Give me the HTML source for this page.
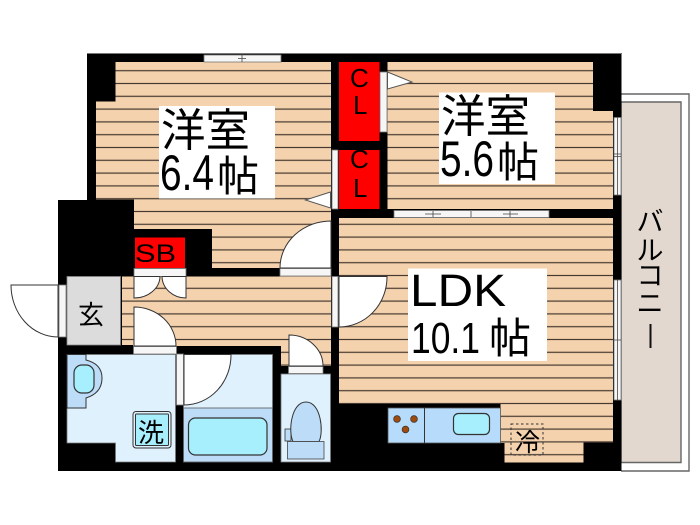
<!DOCTYPE html>
<html><head><meta charset="utf-8">
<style>
html,body{margin:0;padding:0;background:#fff;width:700px;height:525px;overflow:hidden}
svg{display:block;filter:blur(.35px)}
text{font-family:"Liberation Sans","Noto Sans CJK JP",sans-serif;fill:#000}
</style></head>
<body>
<svg width="700" height="525" viewBox="0 0 700 525" xmlns="http://www.w3.org/2000/svg">
<defs>
<pattern id="fl" width="10" height="12.8" patternUnits="userSpaceOnUse" patternTransform="translate(0,70.7)">
<rect width="10" height="12.8" fill="#f5d2ae"/>
<rect y="-0.6" width="10" height="1.2" fill="#463a30"/>
<rect y="12.2" width="10" height="1.2" fill="#463a30"/>
</pattern>
</defs>
<!-- balcony -->
<path d="M621 94H689V471H621" fill="#fff" stroke="#666" stroke-width="1.4"/>
<path d="M621 102H681V462.5H621Z" fill="#e2d8cf" stroke="#666" stroke-width="1.4"/>
<!-- black shell -->
<path d="M87 53.500H621.500V471H58V200H87Z" fill="#000"/>
<rect x="87" y="53" width="535" height="1" fill="#777"/>
<!-- floors -->
<path d="M115.500 62H331V268H280V268H212V229H134V199.500H96V101.500H115.500Z" fill="url(#fl)"/>
<path d="M387.500 62H593V111H613V209H387.500Z" fill="url(#fl)"/>
<path d="M339 218H613V442.500H583.500V462.500H504.500V443H500.500V404H339Z" fill="url(#fl)"/>
<path d="M122 276.500H331V366H281V346H133V345H122Z" fill="url(#fl)"/>
<!-- closets -->
<rect x="339" y="62" width="40.500" height="79" fill="#f00"/>
<rect x="339" y="150" width="40.500" height="59" fill="#f00"/>
<rect x="135" y="237.500" width="50" height="30.500" fill="#f00"/>
<!-- genkan -->
<rect x="67" y="276.500" width="53.500" height="68.500" fill="#dcdcdc" stroke="#888" stroke-width=".8"/>
<!-- wash -->
<path d="M67 354.500H175.500V462H115.500V443H67Z" fill="#dff1fd" stroke="#777" stroke-width=".8"/>
<path d="M67 354.500H86V360Q102 364 102 378Q102 393 86 398V408H67Z" fill="#bcdcf7" stroke="#333" stroke-width="1"/>
<rect x="74" y="365" width="20" height="28" rx="8" fill="#a8effd" stroke="#333" stroke-width="1.200"/>
<rect x="133" y="411.500" width="38" height="36.500" rx="3" fill="#dff1fd" stroke="#333" stroke-width="1"/>
<rect x="135.500" y="414" width="33" height="31.500" rx="1" fill="#a8effd" stroke="#333" stroke-width="1"/>
<!-- bath -->
<rect x="183.500" y="354.500" width="89" height="107.500" fill="#dff1fd" stroke="#777" stroke-width=".8"/>
<rect x="183.500" y="408" width="89" height="54" fill="#bcdcf7" stroke="#555" stroke-width=".8"/>
<rect x="188.500" y="418" width="78.500" height="37" rx="7" fill="#a8effd" stroke="#333" stroke-width="1.200"/>
<!-- toilet -->
<rect x="281" y="374" width="49.500" height="88" fill="#dff1fd" stroke="#777" stroke-width=".8"/>
<rect x="285" y="429" width="6" height="12" fill="#bcdcf7" stroke="#333" stroke-width=".8"/>
<path d="M293 441.500C288 432 291 402 306 402C321 402 324 432 319 441.500Z" fill="#bcdcf7" stroke="#333" stroke-width="1"/>
<rect x="287.500" y="441.500" width="36.500" height="17.500" fill="#bcdcf7" stroke="#444" stroke-width=".8"/>
<!-- kitchen -->
<rect x="388" y="408" width="112.500" height="35" fill="#b7dbfa" stroke="#555" stroke-width=".8"/>
<line x1="424.500" y1="408" x2="424.500" y2="443" stroke="#333" stroke-width="1"/>
<circle cx="397" cy="419" r="3.400" fill="#a04a0c" stroke="#333" stroke-width=".7"/>
<circle cx="414" cy="419" r="3.400" fill="#a04a0c" stroke="#333" stroke-width=".7"/>
<circle cx="405.500" cy="429.500" r="3.400" fill="#a04a0c" stroke="#333" stroke-width=".7"/>
<rect x="453.500" y="413.500" width="36" height="21" rx="5" fill="#a8effd" stroke="#333" stroke-width="1.200"/>
<rect x="511" y="424" width="32" height="31" fill="none" stroke="#333" stroke-width="1" stroke-dasharray="2.500 2.500"/>
<!-- window strips -->
<g fill="#f6f6f6" stroke="#777" stroke-width=".8">
<rect x="204" y="55" width="77" height="7"/>
<rect x="394" y="210.500" width="155" height="7"/>
<rect x="614" y="117.500" width="7" height="77.500"/>
<rect x="614" y="280" width="7" height="120"/>
<rect x="380" y="72" width="7" height="60"/>
<rect x="332" y="150" width="6" height="59"/>
<rect x="332" y="276.500" width="6" height="50.500"/>
<rect x="59" y="285" width="7" height="52"/>
<rect x="134" y="268.500" width="52" height="8"/>
<rect x="280" y="268.500" width="51" height="7.500"/>
<rect x="133.500" y="346.500" width="43" height="7.500"/>
<rect x="176.500" y="354" width="7" height="51"/>
<rect x="288.500" y="366.500" width="34.500" height="7"/>
</g>
<g stroke="#444" stroke-width=".8" fill="none">
<path d="M242 54V62M238 58.500H246"/>
<path d="M433 211V217M471 211V217M510 211V217M425 214H441M503 214H518"/>
<path d="M617.500 117.500V195M614 156.500H621M614 154H621"/>
<path d="M617.500 280V400M614 340H621"/>
</g>
<!-- door leaves -->
<g fill="#fff" stroke="#333" stroke-width="1">
<path d="M58 285H11A47 52 0 0 0 58 337Z"/>
<path d="M330.500 192L305.500 200L330.500 208Z" stroke="#555"/>
<path d="M387.500 72L412 82L387.500 89Z" stroke="#555"/>
<path d="M331 221A51 47 0 0 0 280 268H331Z"/>
<path d="M339 276.500H387A48 50 0 0 1 339 327Z"/>
<path d="M134 276.500H160A26 22 0 0 1 134 298Z" fill="#fff"/>
<path d="M186 276.500H162A24 22 0 0 0 186 298Z" fill="#fff"/>
<path d="M134 307A42 39 0 0 1 176 346H134Z"/>
<path d="M184 354.500H231A47 50 0 0 1 184 405Z"/>
<path d="M289 335A34 31 0 0 1 323 366H289Z"/>
</g>
<!-- labels -->
<rect x="159" y="106" width="116" height="92.500" fill="#fff"/>
<rect x="439" y="92.500" width="116" height="91.500" fill="#fff"/>
<rect x="408" y="268.500" width="139" height="92.500" fill="#fff"/>
<text x="161" y="146" font-size="45" textLength="89" lengthAdjust="spacingAndGlyphs">洋室</text>
<text x="160" y="190" font-size="50" textLength="54" lengthAdjust="spacingAndGlyphs">6.4</text>
<text x="217" y="191" font-size="42">帖</text>
<text x="441" y="132" font-size="45" textLength="89" lengthAdjust="spacingAndGlyphs">洋室</text>
<text x="440" y="176" font-size="50" textLength="54" lengthAdjust="spacingAndGlyphs">5.6</text>
<text x="497" y="177" font-size="42">帖</text>
<text x="410" y="306" font-size="45" textLength="96" lengthAdjust="spacingAndGlyphs">LDK</text>
<text x="411" y="353" font-size="44" textLength="69" lengthAdjust="spacingAndGlyphs">10.1</text>
<text x="489" y="353" font-size="42">帖</text>
<text x="78" y="324" font-size="26">玄</text>
<text x="138" y="442" font-size="26">洗</text>
<text x="515" y="451" font-size="25">冷</text>
<text x="135" y="262" font-size="25" textLength="41" lengthAdjust="spacingAndGlyphs">SB</text>
<text x="350" y="87" font-size="26">C</text>
<text x="353" y="114" font-size="26">L</text>
<text x="350" y="168" font-size="26">C</text>
<text x="353" y="197" font-size="26">L</text>
<g font-size="27" text-anchor="middle">
<text x="650" y="231">バ</text>
<text x="650" y="260">ル</text>
<text x="650" y="285">コ</text>
<text x="650" y="313">ニ</text>
</g>
<rect x="649.500" y="324" width="2" height="24" fill="#111"/>
</svg>
</body></html>
